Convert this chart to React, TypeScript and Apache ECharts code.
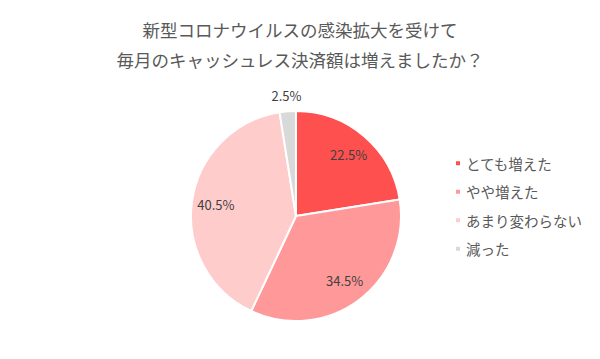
import React, { useEffect, useRef } from "react";
import * as echarts from "echarts";

const titleLines = ["新型コロナウイルスの感染拡大を受けて", "毎月のキャッシュレス決済額は増えましたか？"];
const categories = ["とても増えた", "やや増えた", "あまり変わらない", "減った"];
const values = [22.5, 34.5, 40.5, 2.5];
const colors = ["#FF5050", "#FF9999", "#FFCCCC", "#D9D9D9"];

export default function App() {
  const ref = useRef<HTMLDivElement>(null);
  useEffect(() => {
    document.body.style.margin = "0";
    if (!ref.current) return;
    const chart = echarts.init(ref.current, undefined, { renderer: "svg" });
    const center = [296, 216];
    const font = "'Noto Sans CJK JP', 'Noto Sans', sans-serif";
    const mainData = categories.map((name, i) => ({
      name,
      value: values[i],
      itemStyle: { color: colors[i] },
    }));
    const labelData = (showIdx: (i: number) => boolean) =>
      categories.map((name, i) => ({
        name,
        value: values[i],
        itemStyle: { color: "transparent", borderWidth: 0 },
        label: { show: showIdx(i) },
      }));
    const labelStyle = {
      position: "inside",
      formatter: (p: any) => p.value.toFixed(1) + "%",
      fontSize: 13,
      color: "#404040",
      fontFamily: font,
    };
    chart.setOption({
      animation: false,
      backgroundColor: "#ffffff",
      title: {
        text: titleLines.join("\n"),
        left: "center",
        top: 9,
        textStyle: {
          fontSize: 17.5,
          fontWeight: "normal",
          color: "#595959",
          lineHeight: 30,
          fontFamily: font,
        },
      },
      legend: {
        orient: "vertical",
        left: 449,
        top: 151,
        icon: "rect",
        itemWidth: 6,
        itemHeight: 6,
        itemGap: 14,
        data: categories,
        textStyle: { fontSize: 14.5, color: "#595959", fontFamily: font },
      },
      series: [
        {
          type: "pie",
          center,
          radius: [0, 105],
          startAngle: 90,
          clockwise: true,
          label: { show: false },
          labelLine: { show: false },
          itemStyle: { borderColor: "#ffffff", borderWidth: 2 },
          emphasis: { disabled: true },
          data: mainData,
        },
        {
          type: "pie",
          center,
          radius: [0, 156],
          startAngle: 90,
          silent: true,
          label: labelStyle,
          labelLine: { show: false },
          emphasis: { disabled: true },
          data: labelData((i) => i < 3),
        },
        {
          type: "pie",
          center,
          radius: [110, 126],
          startAngle: 90,
          silent: true,
          label: labelStyle,
          labelLine: { show: false },
          emphasis: { disabled: true },
          data: labelData((i) => i === 3),
        },
      ],
    });
    return () => chart.dispose();
  }, []);
  return <div ref={ref} style={{ width: 600, height: 359 }} />;
}
